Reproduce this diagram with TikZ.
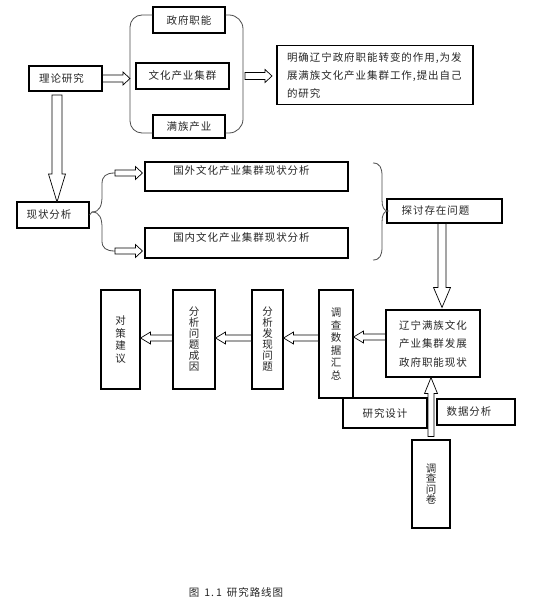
\documentclass[tikz,border=0pt]{standalone}
\usepackage{fontspec}
\newfontfamily\cjk[LetterSpace=9]{Noto Sans CJK SC}
\newfontfamily\cjkv{Noto Sans CJK SC}
\usetikzlibrary{calc}
\newcommand\blockarrow[5]{%
 \draw[blk] let \p1=(#1), \p2=(#2),
   \n1={veclen(\x2-\x1,\y2-\y1)},
   \n2={(\x2-\x1)/\n1}, \n3={(\y2-\y1)/\n1} in
   ({\x1-#3pt*(\n3)},{\y1+#3pt*(\n2)}) --
   ({\x2-#5pt*(\n2)-#3pt*(\n3)},{\y2-#5pt*(\n3)+#3pt*(\n2)}) --
   ({\x2-#5pt*(\n2)-#4pt*(\n3)},{\y2-#5pt*(\n3)+#4pt*(\n2)}) --
   (\x2,\y2) --
   ({\x2-#5pt*(\n2)+#4pt*(\n3)},{\y2-#5pt*(\n3)-#4pt*(\n2)}) --
   ({\x2-#5pt*(\n2)+#3pt*(\n3)},{\y2-#5pt*(\n3)-#3pt*(\n2)}) --
   ({\x1+#3pt*(\n3)},{\y1-#3pt*(\n2)}) -- cycle;}
\newcommand\shl[1]{\hspace*{#1pt}}
\tikzset{
  box/.style={draw=black, line width=1.1pt, inner sep=0pt, text=black!85,
    font=\cjk\fontsize{10.5pt}{13pt}\selectfont},
  vbox/.style={box, align=center, font=\cjkv\fontsize{10.5pt}{#1}\selectfont},
  vbox/.default=12pt,
  topbox/.style={box, text height=13pt, text depth=#1},
  blk/.style={draw=black, line width=0.7pt, fill=white},
  brk/.style={draw=black!70, line width=0.8pt},
}
\begin{document}
\begin{tikzpicture}[x=1pt,y=-1pt]
\useasboundingbox[fill=white] (0,0) rectangle (535,604);
% first row
\node[box, minimum width=73pt, minimum height=25pt] (lilun) at (65.5,78.5) {理论研究\shl{8}};
\node[box, minimum width=72pt, minimum height=26pt] (zf) at (189,20) {政府职能};
\node[box, minimum width=93pt, minimum height=26pt] (wh) at (182.5,76) {文化产业集群};
\node[box, minimum width=72pt, minimum height=23pt] (mz) at (189,126.5) {满族产业};
\node[box, minimum width=196pt, minimum height=59pt, text width=176pt, align=left,
  font=\cjk\fontsize{10.5pt}{18pt}\selectfont] (mq) at (375,75)
  {明确辽宁政府职能转变的作用,为发\\展满族文化产业集群工作,提出自己\\的研究};
% brackets
\draw[brk, rounded corners=12pt] (zf.west |- 0,15) -- (130,15) -- (130,133) -- (mz.west |- 0,133);
\draw[brk, rounded corners=14pt] (zf.east |- 0,15) -- (243,15) -- (243,133) -- (mz.east |- 0,133);
\coordinate (brL) at (130,78.5);
\coordinate (brR) at (245,76);
\coordinate (mqin) at (272,76);
\blockarrow{lilun.east}{brL}{3.5}{6.5}{7}
\blockarrow{brR}{mqin}{3.5}{6.5}{7}
% second row
\node[box, minimum width=72pt, minimum height=26pt] (xz) at (53,215) {现状分析\shl{8}};
\node[topbox=16pt, minimum width=203pt] (gw) at (246.5,176.5) {国外文化产业集群现状分析\shl{10}};
\node[topbox=17pt, minimum width=203pt] (gn) at (246.5,243) {国内文化产业集群现状分析\shl{10}};
\node[box, minimum width=115pt, minimum height=24pt] (tt) at (444.5,211) {探讨存在问题\shl{18}};
\coordinate (dnS) at (57,95);
\coordinate (xzin) at (57,202);
\blockarrow{dnS}{xzin}{5}{8.5}{28}
\coordinate (bt) at (92,212);
\draw[brk] (xz.east) -- (bt);
\draw[brk] (bt) .. controls (100,212) and (102,205) .. (102,196) -- (102,184)
  .. controls (102,176) and (106,173) .. (115,173);
\draw[brk] (bt) .. controls (100,212) and (102,219) .. (102,228) -- (102,241)
  .. controls (102,248) and (106,251) .. (115,251);
\coordinate (a1s) at (115,173);
\coordinate (a2s) at (115,251);
\blockarrow{a1s}{$(gw.west |- a1s)+(-2,0)$}{3}{6.5}{7}
\blockarrow{a2s}{$(gn.west |- a2s)+(-2,0)$}{3}{6.5}{7}
\draw[brk] (373,163) .. controls (380,163) and (382,168) .. (382,176) -- (382,200)
  .. controls (382,207) and (384,211) .. (388,211)
  .. controls (384,211) and (382,215) .. (382,222) -- (382,247)
  .. controls (382,255) and (380,260) .. (373,260);
% third row
\node[box, minimum width=94pt, minimum height=67pt, align=left,
  font=\cjk\fontsize{10.5pt}{18.5pt}\selectfont] (ln) at (433,343.5)
  {辽宁满族文化\\产业集群发展\\政府职能现状};
\node[vbox=12.5pt, minimum width=34pt, minimum height=108pt] (dc) at (336,344) {调\\查\\数\\据\\汇\\总};
\node[vbox=11pt, minimum width=31pt, minimum height=99pt] (fx) at (267.5,339.5) {分\\析\\发\\现\\问\\题};
\node[vbox=11pt, minimum width=42pt, minimum height=99pt] (cy) at (194,339.5) {分\\析\\问\\题\\成\\因};
\node[vbox=12.5pt, minimum width=39pt, minimum height=99pt] (dj) at (120.5,339.5) {对\\策\\建\\议};
\node[box, minimum width=84pt, minimum height=30pt] (yj) at (385,413) {研究设计};
\node[box, minimum width=78pt, minimum height=26pt] (sj) at (476,412) {数据分析\shl{14}};
\node[vbox=10.5pt, minimum width=38pt, minimum height=88pt] (wj) at (431,484) {调\\查\\问\\卷};
\blockarrow{$(tt.south)+(-2.5,0)$}{$(ln.north)+(9,-2)$}{4}{8.5}{20}
\blockarrow{$(ln.west)+(0,-6.5)$}{$(dc.east)+(0,-7)$}{3}{6}{10}
\blockarrow{$(dc.west)+(0,-6)$}{$(fx.east)+(0,-1.5)$}{3}{6}{10}
\blockarrow{$(fx.west)+(0,-1.5)$}{$(cy.east)+(0,-1.5)$}{3}{6}{10}
\blockarrow{$(cy.west)+(0,-1.5)$}{$(dj.east)+(0,-1.5)$}{3}{6}{10}
\blockarrow{$(wj.north)+(0,-3)$}{$(ln.south)+(-2,0)$}{3}{6.5}{16}
% caption
\node[font=\cjk\fontsize{10.5pt}{13pt}\selectfont, text=black!85] (cap) at (236,592)
  {图\hspace{5pt}1.\hspace{2pt}1\hspace{5pt}研究路线图};
\end{tikzpicture}
\end{document}
